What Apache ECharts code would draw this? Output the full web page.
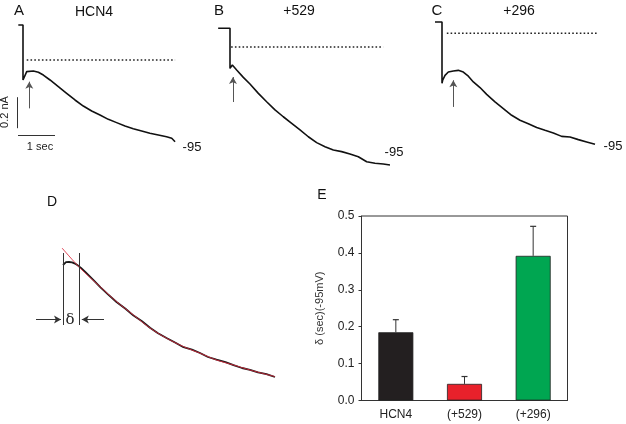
<!DOCTYPE html>
<html>
<head>
<meta charset="utf-8">
<script src="https://cdn.jsdelivr.net/npm/echarts@6/dist/echarts.min.js"></script>
<style>html,body{margin:0;padding:0;background:#fff}#c{width:626px;height:424px}</style>
</head>
<body>
<div id="c"></div>
<script>
// ---------- DATA (time in s, current in nA relative to zero-current dotted line) ----------
const traceA = [[-0.127,0.226],[0,0.226],[0,-0.129],[0.01,-0.129],[0.1,-0.075],[0.28,-0.071],[0.415,-0.079],[0.55,-0.097],[0.73,-0.129],[0.955,-0.172],[1.18,-0.215],[1.405,-0.258],[1.63,-0.297],[1.856,-0.329],[2.08,-0.355],[2.306,-0.383],[2.53,-0.404],[2.757,-0.426],[2.98,-0.443],[3.208,-0.458],[3.43,-0.473],[3.657,-0.484],[3.88,-0.495],[4.02,-0.505],[4.11,-0.527]];
const traceB = [[-0.32,0.121],[0,0.121],[0,-0.138],[0.063,-0.116],[0.18,-0.148],[0.36,-0.196],[0.54,-0.239],[0.766,-0.299],[0.99,-0.353],[1.216,-0.406],[1.44,-0.45],[1.667,-0.492],[1.892,-0.535],[2.117,-0.579],[2.342,-0.617],[2.568,-0.643],[2.793,-0.665],[3.018,-0.675],[3.243,-0.69],[3.468,-0.708],[3.694,-0.74],[3.919,-0.75],[4.143,-0.755],[4.324,-0.761]];
const traceC = [[-0.19,0.073],[0,0.073],[0,-0.323],[0.018,-0.303],[0.081,-0.271],[0.171,-0.25],[0.306,-0.243],[0.441,-0.239],[0.576,-0.25],[0.712,-0.277],[0.847,-0.314],[1.027,-0.35],[1.207,-0.394],[1.432,-0.443],[1.658,-0.486],[1.883,-0.529],[2.108,-0.561],[2.333,-0.583],[2.559,-0.608],[2.784,-0.626],[3.009,-0.643],[3.234,-0.665],[3.459,-0.669],[3.685,-0.686],[3.91,-0.701],[4.135,-0.716]];
const zeroA = [[0.1,0],[4.11,0]];
const zeroB = [[0.03,0],[4.14,0]];
const zeroC = [[0.13,0],[4.18,0]];
const arrowA = [[0.17,-0.312],[0.17,-0.14]];
const arrowB = [[0.08,-0.355],[0.08,-0.194]];
const arrowC = [[0.306,-0.475],[0.306,-0.303]];
const scaleBarV = [[-0.154,-0.24],[-0.154,-0.44]];   // 0.2 nA
const scaleBarH = [[-0.135,-0.484],[0.865,-0.484]];  // 1 sec
// Panel D: enlarged trace with exponential fit
const traceD = [[0,-0.085],[0.02,-0.075],[0.06,-0.071],[0.12,-0.07],[0.18,-0.072],[0.24,-0.078],[0.3,-0.088],[0.36,-0.1],[0.45,-0.121],[0.6,-0.158],[0.75,-0.197],[0.9,-0.232],[1.07,-0.27],[1.25,-0.304],[1.41,-0.338],[1.58,-0.366],[1.74,-0.399],[1.9,-0.426],[2.07,-0.45],[2.25,-0.474],[2.41,-0.496],[2.58,-0.508],[2.74,-0.525],[2.9,-0.545],[3.07,-0.558],[3.25,-0.571],[3.41,-0.586],[3.58,-0.6],[3.74,-0.609],[3.9,-0.622],[4.07,-0.631],[4.24,-0.645]];
const fitD = [[-0.02,0.0],[0.34,-0.1],[0.74,-0.193],[1.07,-0.268],[1.41,-0.335],[1.74,-0.4],[2.07,-0.451],[2.41,-0.493],[2.74,-0.526],[3.07,-0.56],[3.41,-0.585],[3.74,-0.61],[4.24,-0.643]];
const deltaD = [0, 0.326];          // delay interval (s)
const deltaLineV = [-0.025, -0.385];
const deltaArrowV = -0.357;
// Panel E
const categories = ['HCN4', '(+529)', '(+296)'];
const deltaMeans = [0.185, 0.045, 0.392];
const deltaErrs = [0.034, 0.02, 0.08];
const barColors = ['#231f20', '#e8212b', '#00a651'];
const yTicks = [0, 0.5, 0.1];

// ---------- CHART ----------
const FONT = 'Liberation Sans, Arial, Helvetica, sans-serif';
const chart = echarts.init(document.getElementById('c'), null, {renderer: 'canvas'});

function hiddenAxes(i, xmin, xmax, ymin, ymax) {
  return {
    x: {type: 'value', gridIndex: i, min: xmin, max: xmax, show: false},
    y: {type: 'value', gridIndex: i, min: ymin, max: ymax, show: false}
  };
}
const grids = [
  {left: 8.2, top: 13.5, width: 192.4, height: 139.5},
  {left: 215.2, top: 16, width: 192.4, height: 155},
  {left: 427.2, top: 2.3, width: 192.4, height: 155},
  {left: 28, top: 228, width: 260, height: 160},
  {left: 361.5, top: 216, right: 58.5, bottom: 23.5, show: true, borderColor: '#333', borderWidth: 1}
];
const ax = [
  hiddenAxes(0, -0.4, 4.8, -0.6, 0.3),
  hiddenAxes(1, -0.4, 4.8, -0.8, 0.2),
  hiddenAxes(2, -0.4, 4.8, -0.8, 0.2),
  hiddenAxes(3, -0.7, 4.5, -0.7, 0.1)
];
const xAxes = ax.map(a => a.x);
const yAxes = ax.map(a => a.y);
xAxes.push({
  type: 'category', gridIndex: 4, data: categories,
  axisLine: {lineStyle: {color: '#333'}},
  axisTick: {alignWithLabel: true, length: 3, lineStyle: {color: '#333'}},
  axisLabel: {color: '#222', fontSize: 12, fontFamily: FONT, margin: 8}
});
yAxes.push({
  type: 'value', gridIndex: 4, min: yTicks[0], max: yTicks[1], interval: yTicks[2],
  name: 'δ (sec)(-95mV)', nameLocation: 'middle', nameGap: 36, nameRotate: 90,
  nameTextStyle: {color: '#333', fontSize: 11, fontFamily: FONT},
  axisLine: {show: true, lineStyle: {color: '#333'}},
  axisTick: {show: true, length: 3, lineStyle: {color: '#333'}},
  splitLine: {show: false},
  axisLabel: {color: '#222', fontSize: 12, fontFamily: FONT, margin: 7, formatter: v => v.toFixed(1)}
});

function traceSeries(i, data, color, width) {
  return {type: 'line', xAxisIndex: i, yAxisIndex: i, data: data, showSymbol: false, symbol: 'none',
          clip: false, silent: true, animation: false,
          lineStyle: {color: color || '#111', width: width || 1.6}};
}
function dottedSeries(i, data) {
  return {type: 'line', xAxisIndex: i, yAxisIndex: i, data: data, showSymbol: false, symbol: 'none',
          clip: false, silent: true, animation: false,
          lineStyle: {color: '#222', width: 1.6, type: [1.6, 2.2]}};
}
function arrowSeries(i, pairs, color, sym) {
  return {type: 'line', xAxisIndex: i, yAxisIndex: i, data: [], silent: true, animation: false,
    markLine: {silent: true, animation: false, symbol: sym || ['none', 'arrow'], symbolSize: [6, 7],
      label: {show: false}, lineStyle: {color: color || '#555', width: 1, type: 'solid'},
      emphasis: {disabled: true},
      data: pairs.map(p => [{coord: p[0]}, {coord: p[1]}])}};
}

const series = [
  traceSeries(0, traceA), dottedSeries(0, zeroA), arrowSeries(0, [arrowA]),
  arrowSeries(0, [scaleBarV, scaleBarH], '#333', ['none', 'none']),
  traceSeries(1, traceB), dottedSeries(1, zeroB), arrowSeries(1, [arrowB]),
  traceSeries(2, traceC), dottedSeries(2, zeroC), arrowSeries(2, [arrowC]),
  traceSeries(3, traceD, '#1a1a1a', 1.8),
  Object.assign(traceSeries(3, fitD, 'rgba(220,40,60,0.85)', 1), {smooth: 0.3, z: 4}),
  arrowSeries(3, [
    [[deltaD[0], deltaLineV[0]], [deltaD[0], deltaLineV[1]]],
    [[deltaD[1], deltaLineV[0]], [deltaD[1], deltaLineV[1]]]
  ], '#333', ['none', 'none']),
  arrowSeries(3, [
    [[-0.54, deltaArrowV], [deltaD[0] - 0.04, deltaArrowV]],
    [[0.82, deltaArrowV], [deltaD[1] + 0.05, deltaArrowV]]
  ], '#333'),
  {
    type: 'bar', xAxisIndex: 4, yAxisIndex: 4, barWidth: 35, animation: false, silent: true,
    data: deltaMeans.map((v, i) => ({value: v, itemStyle: {color: barColors[i], borderColor: '#222', borderWidth: 0.8}}))
  },
  {
    type: 'custom', xAxisIndex: 4, yAxisIndex: 4, animation: false, silent: true, z: 5,
    data: deltaMeans.map((v, i) => [i, v, deltaErrs[i]]),
    encode: {x: 0, y: 1},
    renderItem: function (params, api) {
      const i = api.value(0);
      const base = api.coord([i, api.value(1)]);
      const top = api.coord([i, api.value(1) + api.value(2)]);
      return {type: 'group', children: [
        {type: 'line', shape: {x1: base[0], y1: base[1], x2: top[0], y2: top[1]}, style: {stroke: '#333', lineWidth: 1}},
        {type: 'line', shape: {x1: top[0] - 3, y1: top[1], x2: top[0] + 3, y2: top[1]}, style: {stroke: '#333', lineWidth: 1.2}}
      ]};
    }
  }
];

function txt(text, x, y, size, opts) {
  opts = opts || {};
  return {type: 'text', x: x, y: y, rotation: opts.rot || 0, silent: true,
    style: {text: text, font: (size || 14) + 'px ' + (opts.family || FONT), fill: opts.color || '#111',
            align: 'center', verticalAlign: 'middle', textAlign: 'center', textVerticalAlign: 'middle'}};
}
const graphic = [
  txt('A', 19, 11, 15), txt('HCN4', 94, 12, 14),
  txt('B', 219, 11, 15), txt('+529', 299, 11, 14),
  txt('C', 437, 11, 15), txt('+296', 519, 11, 14),
  txt('0.2 nA', 5, 112, 11, {rot: Math.PI / 2, color: '#222'}),
  txt('1 sec', 40, 147, 11, {color: '#222'}),
  txt('-95', 192, 147, 13), txt('-95', 394, 152, 13), txt('-95', 613, 146, 13),
  txt('D', 52, 202, 14), txt('E', 322, 195, 14),
  txt('δ', 70, 320, 15, {family: 'DejaVu Serif, Liberation Serif, serif', color: '#222'})
];

chart.setOption({
  animation: false,
  backgroundColor: '#fff',
  grid: grids,
  xAxis: xAxes,
  yAxis: yAxes,
  series: series,
  graphic: graphic
});
</script>
</body>
</html>
